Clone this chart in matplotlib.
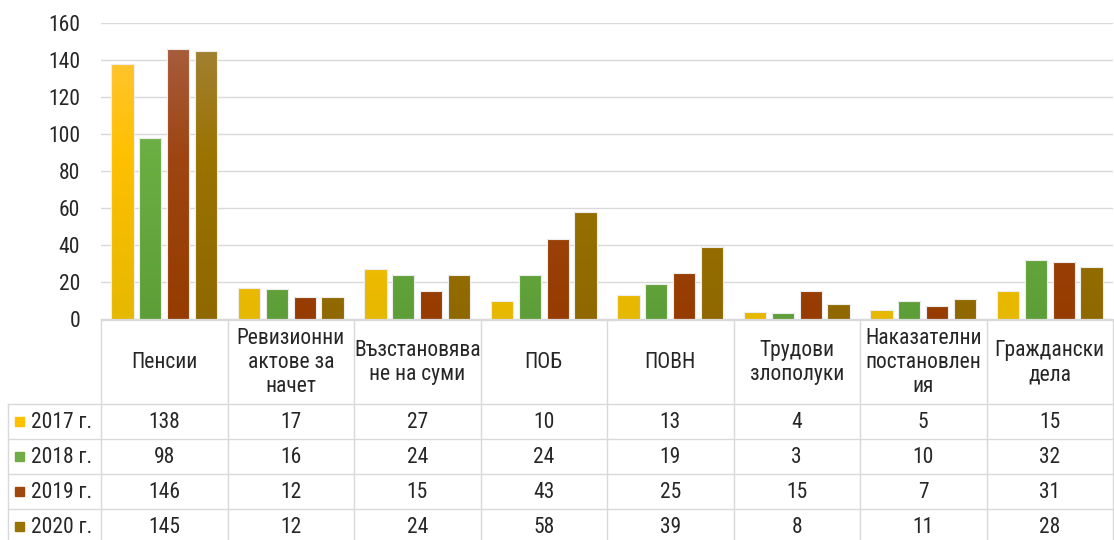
import matplotlib
matplotlib.use("Agg")
import matplotlib.pyplot as plt
import numpy as np
from matplotlib import font_manager as fm
from matplotlib.colors import LinearSegmentedColormap

# ---------------- data ----------------
categories = ["Пенсии", "Ревизионни\nактове за\nначет", "Възстановява\nне на суми", "ПОБ",
              "ПОВН", "Трудови\nзлополуки", "Наказателни\nпостановлен\nия", "Граждански\nдела"]
series_names = ["2017 г.", "2018 г.", "2019 г.", "2020 г."]
v2017 = [138, 17, 27, 10, 13, 4, 5, 15]
v2018 = [98, 16, 24, 24, 19, 3, 10, 32]
v2019 = [146, 12, 15, 43, 25, 15, 7, 31]
v2020 = [145, 12, 24, 58, 39, 8, 11, 28]
series_values = [v2017, v2018, v2019, v2020]
yticks = [0, 20, 40, 60, 80, 100, 120, 140, 160]

legend_colors = ["#FFC000", "#70AD47", "#9E480E", "#997300"]
grad_colors = [
    ["#FFC640", "#FFC000", "#E6B800"],
    ["#80B862", "#6AAE42", "#5E9E38"],
    ["#A96246", "#9E4512", "#963C00"],
    ["#A3843F", "#9A7300", "#8F6800"],
]

# ---------------- font ----------------
family = "Liberation Sans"
for cand in ["Liberation Sans Narrow", "Roboto Condensed", "Liberation Sans"]:
    try:
        fm.findfont(cand, fallback_to_default=False)
        family = cand
        break
    except Exception:
        pass
plt.rcParams["font.family"] = [family, "DejaVu Sans"]
text_color = "#262626"
grid_color = "#D9D9D9"
fs = 15.5

W, H = 1114, 540
fig = plt.figure(figsize=(W / 100, H / 100), dpi=100)

x_left, x_right = 101, 1113
y_top, y_bot = 23, 319
ax = fig.add_axes([x_left / W, 1 - y_bot / H, (x_right - x_left) / W, (y_bot - y_top) / H])
n = len(categories)
ax.set_xlim(0, n)
ax.set_ylim(0, 160)
ax.set_yticks(yticks)
ax.set_yticklabels([str(t) for t in yticks], fontsize=fs, color=text_color)
ax.tick_params(axis="y", length=0, pad=15)
ax.set_xticks([])
for s in ["top", "right", "left"]:
    ax.spines[s].set_visible(False)
ax.spines["bottom"].set_color(grid_color)
ax.grid(axis="y", color=grid_color, linewidth=1)
ax.set_axisbelow(True)

bw = 0.175
step = 0.22
x = np.arange(n) + 0.5
grad = np.linspace(0, 1, 256).reshape(-1, 1)
for i, (vals, gc) in enumerate(zip(series_values, grad_colors)):
    cmap = LinearSegmentedColormap.from_list(f"g{i}", [(0, gc[2]), (0.55, gc[1]), (1, gc[0])])
    xs = x + (i - 1.5) * step
    bars = ax.bar(xs, vals, width=bw, color=legend_colors[i], edgecolor="#F2F2F2", linewidth=0.8, zorder=2)
    for b in bars:
        bx, by = b.get_x(), b.get_y()
        bh, bwid = b.get_height(), b.get_width()
        im = ax.imshow(grad, extent=[bx, bx + bwid, 0, 160], origin="lower", cmap=cmap,
                       aspect="auto", zorder=2.5)
        im.set_clip_path(b)
        ax.add_patch(plt.Rectangle((bx, by), bwid, bh, fill=False, edgecolor="#EDEDED",
                                   linewidth=0.8, zorder=3))
ax.set_xlim(0, n)
ax.set_ylim(0, 160)

# ---------------- table ----------------
tab = fig.add_axes([0, 0, 1, 1 - y_bot / H])
tab.set_xlim(0, W)
tab.set_ylim(H, y_bot)
tab.axis("off")
col_w = (x_right - x_left) / n
col_edges = [x_left + k * col_w for k in range(n + 1)]
header_bottom = 404
row_h = 35
row_lines = [header_bottom + k * row_h for k in range(5)]
lc = grid_color
lw = 1.0
for cx in col_edges:
    tab.plot([cx, cx], [y_bot, H], color=lc, lw=lw)
tab.plot([8, 8], [header_bottom, H], color=lc, lw=lw)
for ry in row_lines:
    tab.plot([8, x_right], [ry, ry], color=lc, lw=lw)
tab.plot([x_left, x_right], [y_bot + 0.5, y_bot + 0.5], color=lc, lw=lw)

for j, cat in enumerate(categories):
    cx = (col_edges[j] + col_edges[j + 1]) / 2
    tab.text(cx, (y_bot + header_bottom) / 2 + 1, cat, ha="center", va="center", fontsize=fs,
             color=text_color, linespacing=1.2)
for i, (name, vals) in enumerate(zip(series_names, series_values)):
    cy = header_bottom + (i + 0.5) * row_h
    tab.add_patch(plt.Rectangle((15, cy - 4.5), 8.5, 8.5, color=legend_colors[i]))
    tab.text(31, cy + 1, name, ha="left", va="center", fontsize=fs, color=text_color)
    for j, v in enumerate(vals):
        cx = (col_edges[j] + col_edges[j + 1]) / 2
        tab.text(cx, cy + 1, str(v), ha="center", va="center", fontsize=fs, color=text_color)

fig.savefig("out.png", dpi=100)
